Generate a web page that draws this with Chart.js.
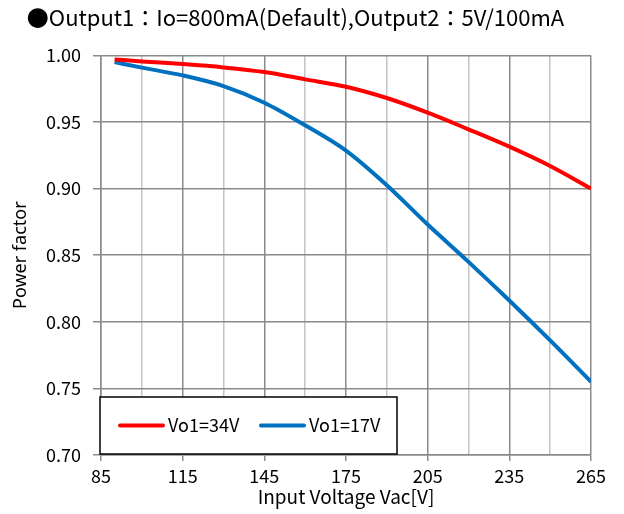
<!DOCTYPE html>
<html>
<head>
<meta charset="utf-8">
<script src="https://cdn.jsdelivr.net/npm/chart.js@4.4.1/dist/chart.umd.min.js"></script>
<style>
  html, body { margin: 0; padding: 0; background: #fff; }
  #wrap { width: 624px; height: 514px; }
</style>
</head>
<body>
<div id="wrap"><canvas id="pfChart" width="624" height="514"></canvas></div>
<script>
const voltages = [90, 100, 115, 130, 145, 160, 175, 190, 205, 220, 235, 250, 265];
const pf34V = [0.997, 0.9955, 0.9935, 0.991, 0.9875, 0.982, 0.9765, 0.968, 0.957, 0.9445, 0.9315, 0.917, 0.900];
const pf17V = [0.995, 0.9908, 0.985, 0.977, 0.9645, 0.9475, 0.9285, 0.9025, 0.873, 0.845, 0.816, 0.786, 0.755];
const seriesNames = ['Vo1=34V', 'Vo1=17V'];

const jp = '"Noto Sans CJK JP", "Noto Sans", sans-serif';
const darkGrid = '#8a8a8a';
const lightGrid = '#c4c4c4';

function points(ys) {
    return voltages.map((v, i) => ({ x: v, y: ys[i] }));
}

// legend box drawn inside the plot, bottom-left
const boxLegend = {
    id: 'boxLegend',
    afterDatasetsDraw(chart) {
        const { ctx, chartArea } = chart;
        const x0 = chartArea.left - 1, y1 = chartArea.bottom - 1;
        const w = 297, h = 57, y0 = y1 - h;
        ctx.save();
        ctx.fillStyle = '#fff';
        ctx.fillRect(x0, y0, w, h);
        ctx.strokeStyle = '#000';
        ctx.lineWidth = 1.5;
        ctx.strokeRect(x0, y0, w, h);
        ctx.font = '18px ' + jp;
        ctx.textBaseline = 'middle';
        const cy = y0 + h / 2;
        let x = x0 + 20;
        chart.data.datasets.forEach(ds => {
            ctx.strokeStyle = ds.borderColor;
            ctx.lineWidth = 4;
            ctx.lineCap = 'round';
            ctx.beginPath();
            ctx.moveTo(x, cy);
            ctx.lineTo(x + 43, cy);
            ctx.stroke();
            ctx.fillStyle = '#000';
            ctx.fillText(ds.label, x + 48, cy);
            x += 141;
        });
        ctx.restore();
    }
};

new Chart(document.getElementById('pfChart').getContext('2d'), {
    type: 'line',
    data: {
        datasets: [{
            label: seriesNames[0],
            data: points(pf34V),
            borderColor: '#ff0000',
            borderWidth: 4,
            pointRadius: 0,
            cubicInterpolationMode: 'monotone'
        }, {
            label: seriesNames[1],
            data: points(pf17V),
            borderColor: '#0070c0',
            borderWidth: 4,
            pointRadius: 0,
            cubicInterpolationMode: 'monotone'
        }]
    },
    plugins: [boxLegend],
    options: {
        responsive: false,
        animation: false,
        layout: { padding: { left: 0, right: 33, top: 0, bottom: 0 } },
        scales: {
            x: {
                type: 'linear',
                min: 85,
                max: 265,
                afterFit: s => { s.height = 59; },
                ticks: {
                    stepSize: 15,
                    autoSkip: false,
                    maxRotation: 0,
                    padding: 4,
                    color: '#000',
                    font: { family: jp, size: 18 },
                    callback: v => ((v - 85) % 30 === 0 ? String(v) : '')
                },
                grid: {
                    color: c => ((c.tick.value - 85) % 30 === 0 ? darkGrid : lightGrid),
                    tickColor: c => ((c.tick.value - 85) % 30 === 0 ? darkGrid : 'rgba(0,0,0,0)'),
                    lineWidth: 1.5,
                    tickLength: 6
                },
                border: { color: darkGrid, width: 1.5 },
                title: {
                    display: true,
                    text: 'Input Voltage Vac[V]',
                    color: '#000',
                    font: { family: jp, size: 19 },
                    padding: { top: 0, bottom: 6 }
                }
            },
            y: {
                min: 0.70,
                max: 1.00,
                afterFit: s => { s.width = 101; },
                ticks: {
                    stepSize: 0.05,
                    padding: 12,
                    color: '#000',
                    font: { family: jp, size: 18 },
                    callback: v => v.toFixed(2)
                },
                grid: {
                    color: darkGrid,
                    lineWidth: 1.5,
                    tickLength: 8
                },
                border: { color: darkGrid, width: 1.5 },
                title: {
                    display: true,
                    text: 'Power factor',
                    color: '#000',
                    font: { family: '"Noto Sans", sans-serif', size: 18 },
                    padding: { top: 10, bottom: 0 }
                }
            }
        },
        plugins: {
            legend: { display: false },
            tooltip: { enabled: false },
            title: {
                display: true,
                text: '●Output1：Io=800mA(Default),Output2：5V/100mA',
                color: '#000',
                font: { family: jp, size: 22, weight: 'normal' },
                padding: { top: 4, bottom: 25 }
            }
        }
    }
});
</script>
</body>
</html>
